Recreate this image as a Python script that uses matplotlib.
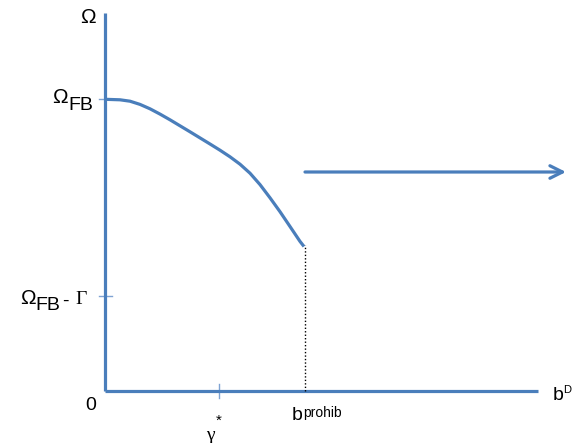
import matplotlib.pyplot as plt

# --- data (diagram units: origin at the axes corner) ---
curve_x = [0, 15, 25, 35, 45, 55, 65, 75, 85, 95, 105, 115, 125, 135, 145,
           155, 165, 175, 185, 195, 199]
curve_y = [291.7, 291.2, 289.8, 286.6, 282.2, 276.9, 271.2, 265.2, 259.2,
           253.1, 247.0, 240.8, 234.2, 226.8, 217.8, 206.4, 193.2, 179.3,
           164.5, 149.6, 144.5]
omega_fb = 292
omega_fb_minus_gamma = 95
gamma_star = 114
b_prohib = 200
level_after = 219
x_end = 433
arrow_end = 461
y_top = 378

BLUE = "#4a7ebb"
TICK_BLUE = "#7fa3d3"

fig = plt.figure(figsize=(5.77, 4.43), dpi=100)
ax = fig.add_axes([0, 0, 1, 1])
ax.set_xlim(-105, 472)
ax.set_ylim(-52, 391)
ax.axis("off")

# ticks
for yv in [omega_fb, omega_fb_minus_gamma]:
    ax.plot([-6, 7], [yv, yv], color=TICK_BLUE, lw=1)
ax.plot([gamma_star, gamma_star], [-7, 7], color=TICK_BLUE, lw=1)

# axes drawn as lines
ax.plot([0, 0], [0, y_top], color=BLUE, lw=2.3, solid_capstyle="butt")
ax.plot([0, x_end], [0, 0], color=BLUE, lw=2.3, solid_capstyle="butt")

# declining curve
ax.plot(curve_x, curve_y, color=BLUE, lw=2.3, solid_capstyle="butt",
        solid_joinstyle="round")

# dotted cutoff
ax.plot([b_prohib, b_prohib], [0, 146], color="black", lw=1, ls=(0, (1, 1.5)))

# flat segment with open arrow
ax.annotate("", xy=(arrow_end, level_after), xytext=(b_prohib, level_after),
            arrowprops=dict(arrowstyle="->,head_length=0.9,head_width=0.45",
                            color=BLUE, lw=2.3, shrinkA=0, shrinkB=0))

sans = "Liberation Sans"
serif = "Liberation Serif"
fs = 14

ax.text(-17, 374, "Ω", fontsize=15, family=sans, ha="center", va="center")
ax.text(-37, 294, "Ω", fontsize=15, family=sans, ha="right", va="center")
ax.text(-37, 286, "FB", fontsize=fs, family=sans, ha="left", va="center")

ax.text(-69, 93, "Ω", fontsize=15, family=sans, ha="right", va="center")
ax.text(-70, 85, "FB", fontsize=fs, family=sans, ha="left", va="center")
ax.text(-43, 90, "-", fontsize=fs, family=sans, ha="left", va="center")
ax.text(-30, 91, "Γ", fontsize=fs, family=serif, ha="left", va="center")

ax.text(-14, -15, "0", fontsize=fs, family=sans, ha="center", va="center")

ax.text(gamma_star - 9, -44, "γ", fontsize=fs, family=serif, ha="center", va="center")
ax.text(gamma_star, -30, "*", fontsize=11, family=sans, ha="center", va="center")

ax.text(b_prohib - 13, -25, "b", fontsize=fs, family=sans, ha="left", va="center")
ax.text(b_prohib - 2, -22, "prohib", fontsize=10, family=sans, ha="left", va="center")

ax.text(448, -4, "b", fontsize=fs, family=sans, ha="left", va="center")
ax.text(458, 1, "D", fontsize=8, family=sans, ha="left", va="center")

fig.savefig("out.png", dpi=100)
